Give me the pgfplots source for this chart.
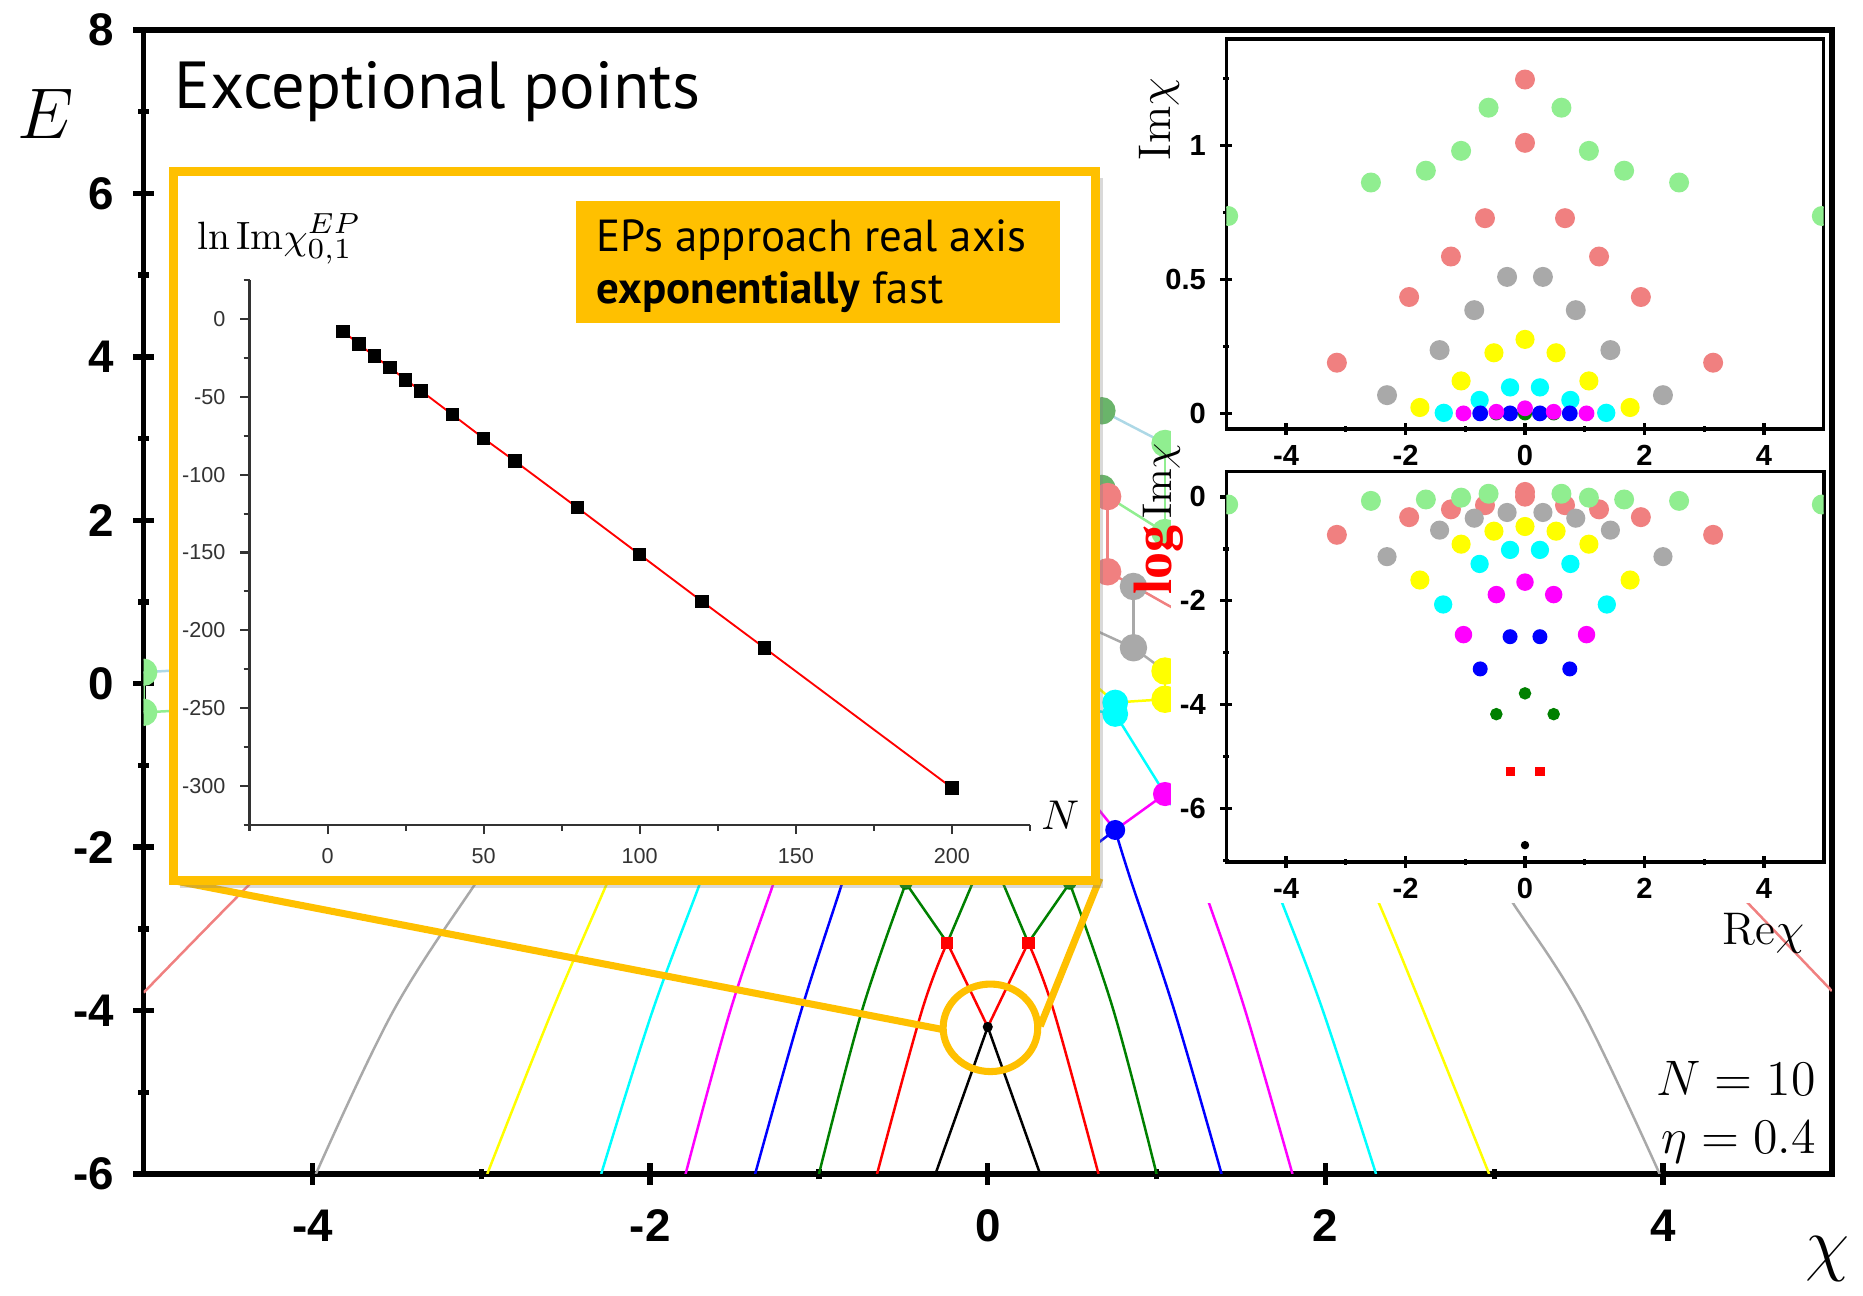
\documentclass[border=0pt]{standalone}
\usepackage{pgfplots}
\pgfplotsset{compat=1.18}
\usepackage{fontspec}
\usetikzlibrary{shadows}
\newfontfamily\tickfont{Liberation Sans}
\newfontfamily\ptsans{PT Sans}
\newfontfamily\serifb{Liberation Serif}
\definecolor{lcoral}{HTML}{F08080}
\definecolor{lgreen}{HTML}{90EE90}
\definecolor{lblue}{HTML}{ADD8E6}
\definecolor{dgray}{HTML}{A9A9A9}
\definecolor{epor}{HTML}{FFC000}
\definecolor{mixgreen}{HTML}{6AB46A}
\definecolor{cy}{RGB}{0,255,255}
\definecolor{mg}{RGB}{255,0,255}
\definecolor{yl}{RGB}{255,255,0}
\definecolor{bl}{RGB}{0,0,255}
\definecolor{rd}{RGB}{255,0,0}
\definecolor{gr}{RGB}{0,128,0}
\pgfplotsset{
  ln/.style={line width=0.6pt, mark=none},
  sm/.style={line width=0.6pt, mark=none, smooth, tension=0.6},
  dots/.style={only marks, mark=*, mark size=#1},
}
\begin{document}
\begin{tikzpicture}
\path (0,0) rectangle (15.68,10.91);
% ---------------- main axis ----------------
\begin{axis}[
  at={(1.215cm,0.99cm)}, anchor=south west, scale only axis,
  width=14.275cm, height=9.673cm,
  xmin=-5, xmax=5, ymin=-6, ymax=8,
  xtick={-4,-2,0,2,4}, minor xtick={-3,-1,1,3},
  ytick={-6,-4,...,8}, minor ytick={-5,-3,...,7},
  xtick pos=left, ytick pos=left, tick align=center,
  major tick length=0.18cm, minor tick length=0.09cm,
  major tick style={line width=1.3pt, black},
  minor tick style={line width=1.3pt, black},
  axis line style={line width=1.3pt},
  /pgf/number format/assume math mode=true,
  ticklabel style={font=\tickfont\bfseries\fontsize{11}{13}\selectfont},
  xticklabel style={yshift=-2.5pt},
  yticklabel style={xshift=-1pt},
  clip marker paths=true,
]
% lower fan of levels
\addplot[sm, lcoral] coordinates {(-5,-3.78) (-4.68,-3.1) (-4.356,-2.42) (-4.1,-1.9)};
\addplot[sm, lcoral] coordinates {(5,-3.76) (4.75,-3.22) (4.51,-2.70) (4.25,-2.15)};
\addplot[sm, dgray] coordinates {(-3.98,-6) (-3.52,-4) (-3.025,-2.415) (-2.85,-1.9)};
\addplot[sm, dgray] coordinates {(3.98,-6) (3.52,-4) (3.116,-2.70) (2.95,-2.2)};
\addplot[sm, yl] coordinates {(-2.965,-6) (-2.58,-4) (-2.25,-2.415) (-2.15,-1.9)};
\addplot[sm, yl] coordinates {(2.97,-6) (2.58,-4) (2.32,-2.70) (2.2,-2.2)};
\addplot[sm, cy] coordinates {(-2.29,-6) (-1.985,-4) (-1.70,-2.415) (-1.62,-1.9)};
\addplot[sm, cy] coordinates {(2.30,-6) (1.985,-4) (1.747,-2.70) (1.65,-2.2)};
\addplot[sm, mg] coordinates {(-1.79,-6) (-1.525,-4) (-1.265,-2.415) (-1.19,-1.9)};
\addplot[sm, mg] coordinates {(1.805,-6) (1.525,-4) (1.313,-2.70) (1.22,-2.2)};
\addplot[sm, bl] coordinates {(-1.378,-6) (-1.105,-4) (-0.859,-2.415) (-0.79,-1.9)};
\addplot[sm, bl] coordinates {(1.385,-6) (1.105,-4) (0.849,-2.415) (0.755,-1.79)};
\addplot[ln, bl] coordinates {(0.755,-1.79) (0.62,-2.0)};
\addplot[sm, gr] coordinates {(-1.0,-6) (-0.745,-4) (-0.485,-2.44)};
\addplot[ln, gr] coordinates {(-0.485,-2.44) (-0.24,-3.17) (-0.09,-2.44) (-0.05,-2.1)};
\addplot[sm, gr] coordinates {(1.0,-6) (0.745,-4) (0.485,-2.44)};
\addplot[ln, gr] coordinates {(0.485,-2.44) (0.24,-3.17) (0.09,-2.44) (0.05,-2.1)};
\addplot[sm, rd] coordinates {(-0.656,-6) (-0.39,-4) (-0.24,-3.17)};
\addplot[sm, rd] coordinates {(0.656,-6) (0.39,-4) (0.24,-3.17)};
\addplot[ln, rd] coordinates {(-0.24,-3.17) (0,-4.2) (0.24,-3.17)};
\addplot[ln, black] coordinates {(-0.31,-6) (0,-4.2) (0.31,-6)};
% upper visible pieces
\addplot[ln, lblue] coordinates {(0.4,3.65) (0.676,3.34) (1.05,2.94) (1.3,2.65)};
\addplot[ln, lgreen] coordinates {(1.05,2.94) (1.05,1.85)};
\addplot[ln, lgreen] coordinates {(0.45,2.62) (0.71,2.29) (1.05,1.85) (1.3,1.55)};
\addplot[ln, lcoral] coordinates {(0.71,2.29) (0.71,1.37)};
\addplot[ln, lcoral] coordinates {(0.71,1.37) (0.863,1.2) (1.05,0.98) (1.3,0.7)};
\addplot[ln, dgray] coordinates {(0.863,1.19) (0.863,0.44)};
\addplot[ln, dgray] coordinates {(0.45,0.83) (0.863,0.44) (1.05,0.155)};
\addplot[ln, yl] coordinates {(1.05,0.155) (1.05,-0.19)};
\addplot[ln, yl] coordinates {(0.5,0.22) (0.755,-0.23) (1.05,-0.19)};
\addplot[ln, cy] coordinates {(0.55,-0.3) (0.755,-0.37) (1.05,-1.35) (1.2,-1.85)};
\addplot[ln, mg] coordinates {(0.5,-1.14) (0.755,-1.79)};
\addplot[ln, mg] coordinates {(0.755,-1.79) (1.05,-1.35) (1.25,-1.75)};
\addplot[ln, lblue] coordinates {(-5,0.14) (-4.5,0.2)};
\addplot[ln, lgreen] coordinates {(-5,-0.35) (-4.5,-0.3)};
\addplot[ln, lgreen] coordinates {(-5,0.14) (-5,-0.35)};
% EP markers
\addplot[dots=3.1pt, lgreen] coordinates {(1.05,2.94) (1.05,1.85) (-5,0.14) (-5,-0.35)};
\addplot[dots=3.1pt, mixgreen] coordinates {(0.676,3.34) (0.676,2.39)};
\addplot[dots=3.1pt, lcoral] coordinates {(0.71,2.29) (0.71,1.37)};
\addplot[dots=3.1pt, dgray] coordinates {(0.863,1.19) (0.863,0.44)};
\addplot[dots=3.1pt, yl] coordinates {(1.05,0.155) (1.05,-0.19)};
\addplot[dots=2.9pt, cy] coordinates {(0.755,-0.23) (0.755,-0.37)};
\addplot[dots=2.7pt, mg] coordinates {(1.05,-1.35)};
\addplot[dots=2.2pt, bl] coordinates {(0.755,-1.79)};
\addplot[dots=1.4pt, gr] coordinates {(-0.485,-2.44) (0.485,-2.44)};
\addplot[only marks, mark=square*, mark size=1.3pt, rd] coordinates {(-0.24,-3.17) (0.24,-3.17)};
\addplot[dots=1.0pt, black] coordinates {(0,-4.2)};
\end{axis}
% white background of the right insets
\fill[white] (9.90,3.28) rectangle (15.465,10.635);
% connectors and zoom circle
\draw[epor, line width=1.7pt] (1.445,3.475) -- (7.969,2.212);
\draw[epor, line width=1.7pt] (9.30,3.49) -- (8.796,2.24);
\draw[epor, line width=1.7pt] (8.375,2.226) ellipse [x radius=0.40, y radius=0.37];
% yellow framed inset box
\fill[white, drop shadow={shadow xshift=0.06cm, shadow yshift=-0.06cm, opacity=0.3}] (1.465,3.47) rectangle (9.265,9.47);
\draw[epor, line width=2.2pt] (1.465,3.47) rectangle (9.265,9.47);
% ---------------- N inset ----------------
\begin{axis}[
  at={(2.11cm,3.944cm)}, anchor=south west, scale only axis,
  width=6.599cm, height=4.602cm,
  xmin=-25, xmax=225, ymin=-325, ymax=25,
  axis x line*=bottom, axis y line*=left,
  xtick={0,50,...,200}, ytick={-300,-250,...,0},
  minor xtick={-25,25,75,125,175,225}, minor ytick={-325,-275,...,25},
  tick align=outside, major tick length=0.08cm, minor tick length=0.05cm,
  axis line style={line width=0.5pt, black!80},
  major tick style={line width=0.5pt, black!80},
  minor tick style={line width=0.5pt, black!80},
  /pgf/number format/assume math mode=true,
  ticklabel style={font=\tickfont\fontsize{5.2}{6}\selectfont, text=black!80},
]
\addplot[rd, line width=0.45pt, mark=square*, mark size=1.4pt, mark options={black}] coordinates {
(5,-7.8) (10,-15.9) (15,-23.7) (20,-31.1) (25,-38.9) (30,-46.1) (40,-61.3) (50,-76.6) (60,-91.2) (80,-121.1) (100,-151.3) (120,-181.5) (140,-211.4) (200,-301.3)};
\end{axis}
\node[anchor=base west, inner sep=0] at (1.66,8.81) {\fontsize{9.5}{11}\selectfont$\ln\mathrm{Im}\chi_{0,1}^{EP}$};
\node at (8.965,4.025) {\fontsize{10}{12}\selectfont$N$};
\fill[epor] (4.87,8.19) rectangle (8.965,9.22);
\node[anchor=base west, inner sep=0] at (5.04,8.79) {\ptsans\fontsize{10.8}{12}\selectfont EPs approach real axis};
\node[anchor=base west, inner sep=0] at (5.04,8.35) {\ptsans\fontsize{10.8}{12}\selectfont\textbf{exponentially} fast};
% ---------------- upper right inset ----------------
\begin{axis}[
  at={(10.37cm,7.29cm)}, anchor=south west, scale only axis,
  width=5.05cm, height=3.297cm,
  xmin=-5, xmax=5, ymin=-0.058, ymax=1.396,
  xtick={-4,-2,0,2,4}, minor xtick={-3,-1,1,3},
  ytick={0,0.5,1}, minor ytick={0.25,0.75,1.25},
  xtick pos=left, ytick pos=left, tick align=center,
  major tick length=0.1cm, minor tick length=0.05cm,
  major tick style={line width=0.8pt, black}, minor tick style={line width=0.8pt, black},
  axis line style={line width=0.9pt},
  /pgf/number format/assume math mode=true,
  ticklabel style={font=\tickfont\bfseries\fontsize{7}{8}\selectfont},
  xticklabel style={yshift=1pt},
  clip marker paths=true,
]
\addplot[dots=2.2pt, lgreen] coordinates {(-4.97,0.736) (4.97,0.736) (-2.58,0.861) (2.58,0.861) (-1.66,0.905) (1.66,0.905) (-1.07,0.979) (1.07,0.979) (-0.61,1.14) (0.61,1.14)};
\addplot[dots=2.2pt, lcoral] coordinates {(0,1.245) (0,1.009) (-0.67,0.728) (0.67,0.728) (-1.24,0.585) (1.24,0.585) (-1.94,0.434) (1.94,0.434) (-3.15,0.189) (3.15,0.189)};
\addplot[dots=2.2pt, dgray] coordinates {(-0.30,0.509) (0.30,0.509) (-0.85,0.385) (0.85,0.385) (-1.43,0.236) (1.43,0.236) (-2.31,0.068) (2.31,0.068)};
\addplot[dots=2.1pt, yl] coordinates {(0,0.276) (-0.52,0.226) (0.52,0.226) (-1.07,0.121) (1.07,0.121) (-1.76,0.022) (1.76,0.022)};
\addplot[dots=2.0pt, cy] coordinates {(-0.25,0.097) (0.25,0.097) (-0.76,0.05) (0.76,0.05) (-1.36,0.002) (1.36,0.002)};
\addplot[dots=1.5pt, gr] coordinates {(0,0) (-0.48,0) (0.48,0)};
\addplot[dots=1.7pt, bl] coordinates {(-0.25,0) (0.25,0) (-0.75,0) (0.75,0)};
\addplot[dots=1.7pt, mg] coordinates {(0,0.019) (-0.48,0.006) (0.48,0.006) (-1.03,0) (1.03,0)};
\end{axis}
% ---------------- lower right inset ----------------
\begin{axis}[
  at={(10.37cm,3.63cm)}, anchor=south west, scale only axis,
  width=5.05cm, height=3.301cm,
  xmin=-5, xmax=5, ymin=-7.02, ymax=0.49,
  xtick={-4,-2,0,2,4}, minor xtick={-3,-1,1,3},
  ytick={-6,-4,-2,0}, minor ytick={-7,-5,-3,-1},
  xtick pos=left, ytick pos=left, tick align=center,
  major tick length=0.1cm, minor tick length=0.05cm,
  major tick style={line width=0.8pt, black}, minor tick style={line width=0.8pt, black},
  axis line style={line width=0.9pt},
  /pgf/number format/assume math mode=true,
  ticklabel style={font=\tickfont\bfseries\fontsize{7}{8}\selectfont},
  xticklabel style={yshift=1pt},
  clip marker paths=true,
]
\addplot[dots=2.2pt, lcoral] coordinates {(0,0.095) (0,0.004) (-0.67,-0.16) (0.67,-0.16) (-1.24,-0.24) (1.24,-0.24) (-1.94,-0.39) (1.94,-0.39) (-3.15,-0.73) (3.15,-0.73)};
\addplot[dots=2.2pt, lgreen] coordinates {(-4.97,-0.147) (4.97,-0.147) (-2.58,-0.077) (2.58,-0.077) (-1.66,-0.05) (1.66,-0.05) (-1.07,-0.015) (1.07,-0.015) (-0.61,0.06) (0.61,0.06)};
\addplot[dots=2.1pt, dgray] coordinates {(-0.30,-0.30) (0.30,-0.30) (-0.85,-0.41) (0.85,-0.41) (-1.43,-0.64) (1.43,-0.64) (-2.31,-1.15) (2.31,-1.15)};
\addplot[dots=2.1pt, yl] coordinates {(0,-0.57) (-0.52,-0.66) (0.52,-0.66) (-1.07,-0.91) (1.07,-0.91) (-1.76,-1.60) (1.76,-1.60)};
\addplot[dots=2.0pt, cy] coordinates {(-0.25,-1.02) (0.25,-1.02) (-0.76,-1.29) (0.76,-1.29) (-1.37,-2.07) (1.37,-2.07)};
\addplot[dots=1.9pt, mg] coordinates {(0,-1.64) (-0.48,-1.88) (0.48,-1.88) (-1.03,-2.65) (1.03,-2.65)};
\addplot[dots=1.6pt, bl] coordinates {(-0.25,-2.69) (0.25,-2.69) (-0.75,-3.31) (0.75,-3.31)};
\addplot[dots=1.3pt, gr] coordinates {(0,-3.78) (-0.48,-4.18) (0.48,-4.18)};
\addplot[only marks, mark=square*, mark size=0.9pt, rd] coordinates {(-0.25,-5.28) (0.25,-5.28)};
\addplot[dots=0.8pt, black] coordinates {(0,-6.70)};
\end{axis}
% ---------------- labels ----------------
\node at (0.39,9.95) {\fontsize{16}{18}\selectfont$E$};
\node at (15.45,0.27) {\fontsize{17}{19}\selectfont$\chi$};
\node[anchor=base west, inner sep=0] at (1.47,10.0) {\ptsans\fontsize{16}{18}\selectfont Exceptional points};
\node[rotate=90] at (9.80,9.91) {\fontsize{11}{13}\selectfont$\mathrm{Im}\chi$};
\node[rotate=90] at (9.80,6.53) {{\serifb\bfseries\fontsize{13}{14}\selectfont\color{rd}log}\,{\fontsize{10}{12}\selectfont$\mathrm{Im}\chi$}};
\node[anchor=base west, inner sep=0] at (14.56,2.93) {\fontsize{11}{13}\selectfont$\mathrm{Re}\chi$};
\node[anchor=base east, inner sep=0] at (15.36,1.65) {\fontsize{11.5}{13}\selectfont$N=10$};
\node[anchor=base east, inner sep=0] at (15.36,1.16) {\fontsize{11.5}{13}\selectfont$\eta=0.4$};
\end{tikzpicture}
\end{document}
